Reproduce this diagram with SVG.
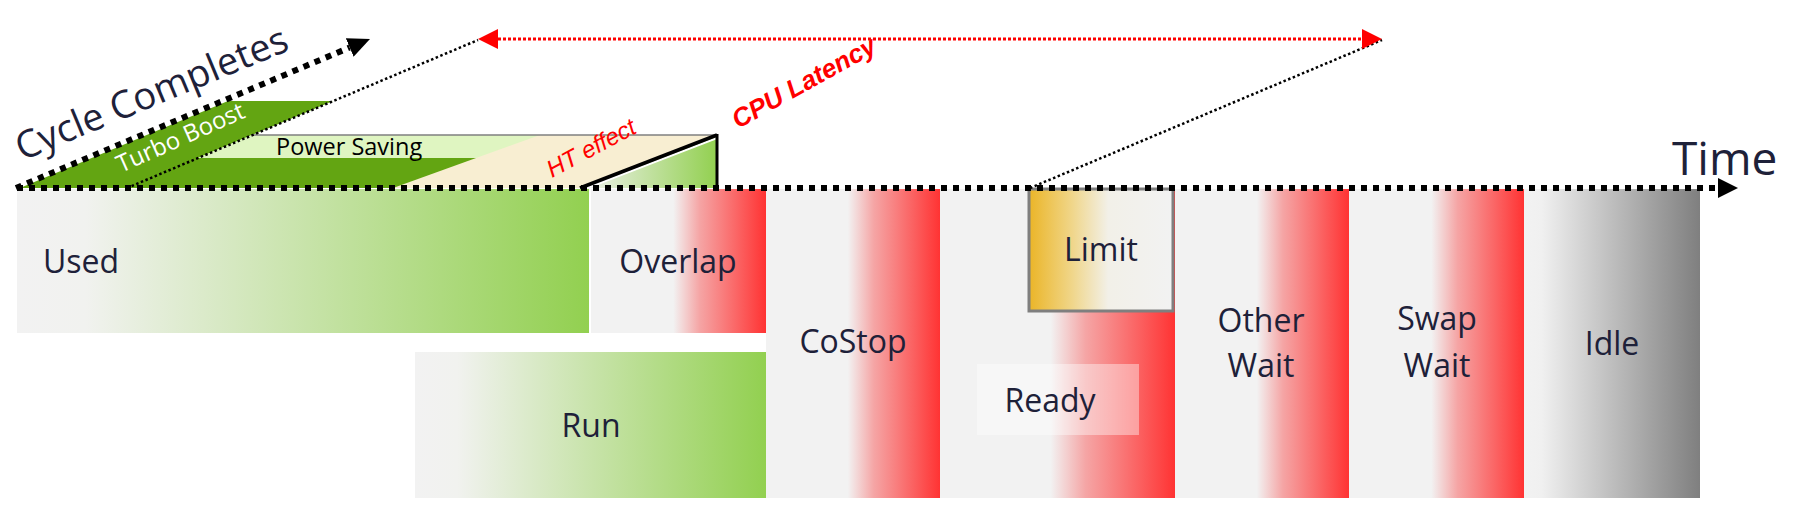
<svg xmlns="http://www.w3.org/2000/svg" width="1819" height="529" viewBox="0 0 1819 529">
<style>
.lbl{font-family:"Open Sans","Liberation Sans",sans-serif;font-size:32px;fill:#1E2139;text-anchor:middle}
.axis{fill:none;stroke:#000;stroke-width:6;stroke-dasharray:6 6}
.thin{fill:none;stroke:#000;stroke-width:2.5;stroke-dasharray:2.5 2.5}
</style>
<defs>
<linearGradient id="gGreen" x1="0" y1="0" x2="1" y2="0">
<stop offset="0" stop-color="#F2F2F2"/><stop offset="0.12" stop-color="#F1F2EF"/><stop offset="1" stop-color="#92D050"/>
</linearGradient>
<linearGradient id="gRed" x1="0" y1="0" x2="1" y2="0">
<stop offset="0" stop-color="#F2F2F2"/><stop offset="0.47" stop-color="#F2F2F2"/><stop offset="0.62" stop-color="#F5A5A5"/><stop offset="1" stop-color="#FF3333"/>
</linearGradient>
<linearGradient id="gIdle" x1="0" y1="0" x2="1" y2="0">
<stop offset="0" stop-color="#F2F2F2"/><stop offset="0.1" stop-color="#F0F0F0"/><stop offset="1" stop-color="#7F7F7F"/>
</linearGradient>
<linearGradient id="gGold" x1="0" y1="0" x2="1" y2="0">
<stop offset="0" stop-color="#EBB527"/><stop offset="0.3" stop-color="#F0D68A"/><stop offset="0.55" stop-color="#F2F0E8"/><stop offset="1" stop-color="#F2F2F2"/>
</linearGradient>
<linearGradient id="gTri" x1="0" y1="0" x2="1" y2="0">
<stop offset="0" stop-color="#F2F2F2"/><stop offset="1" stop-color="#92D050"/>
</linearGradient>
<marker id="mBlack" markerUnits="userSpaceOnUse" markerWidth="22" markerHeight="20" refX="0" refY="10" orient="auto">
<path d="M0,0 L22,10 L0,20 z" fill="#000"/>
</marker>
<marker id="mTime" markerUnits="userSpaceOnUse" markerWidth="20" markerHeight="20" refX="0" refY="10" orient="auto">
<path d="M0,0 L20,10 L0,20 z" fill="#000"/>
</marker>
<marker id="mRed" markerUnits="userSpaceOnUse" markerWidth="20" markerHeight="20" refX="0" refY="10" orient="auto-start-reverse">
<path d="M0,0 L20,10 L0,20 z" fill="#FF0000"/>
</marker>
</defs>
<rect width="1819" height="529" fill="#FFFFFF"/>

<g id="cpu-efficiency">
<polygon points="20,188 228,101 333,101 252,135 198,158 560,158 560,188" fill="#63A512"/>
<polygon points="252,135 560,135 560,158 198,158" fill="#DFF5C1"/>
<polygon points="540,135 717,135 580,188 393,188" fill="#F8EED2"/>
<polygon points="580,188 717,135 717,188" fill="url(#gTri)"/>
<line x1="252" y1="135" x2="717" y2="135" stroke="#7F7F7F" stroke-width="1.5"/>
<line x1="582" y1="190" x2="717" y2="138" stroke="#FFFFFF" stroke-width="2"/>
<line x1="580" y1="188" x2="717" y2="135" stroke="#000" stroke-width="3.5"/>
<line x1="717" y1="134" x2="717" y2="188" stroke="#000" stroke-width="3"/>
<text x="276" y="155" font-family="'Open Sans','Liberation Sans',sans-serif" font-size="23.5" fill="#000">Power Saving</text>
<text transform="translate(121,173) rotate(-24)" font-family="'Open Sans','Liberation Sans',sans-serif" font-size="24" fill="#FFFFFF">Turbo Boost</text>
<text transform="translate(552,178) rotate(-28)" font-family="'Liberation Sans',sans-serif" font-style="italic" font-size="24" fill="#FF0000">HT effect</text>
</g>

<g id="used"><rect x="17" y="189" width="572" height="144" fill="url(#gGreen)"/><text class="lbl" x="43" y="273" style="text-anchor:start">Used</text></g>
<g id="overlap"><rect x="591" y="189" width="175" height="144" fill="url(#gRed)"/><text class="lbl" x="678" y="273">Overlap</text></g>
<g id="run"><rect x="415" y="352" width="351" height="146" fill="url(#gGreen)"/><text class="lbl" x="591" y="437">Run</text></g>
<g id="costop"><rect x="766" y="189" width="174" height="309" fill="url(#gRed)"/><text class="lbl" x="853" y="353">CoStop</text></g>
<g id="ready"><rect x="940" y="189" width="235" height="309" fill="url(#gRed)"/><rect x="977" y="364" width="162" height="71" fill="#FFFFFF" fill-opacity="0.4"/><text class="lbl" x="1050" y="412">Ready</text></g>
<g id="limit"><rect x="1029" y="189" width="144" height="122" fill="url(#gGold)" stroke="#7F7F7F" stroke-width="3"/><text class="lbl" x="1101" y="261">Limit</text></g>
<g id="other-wait"><rect x="1175" y="189" width="174" height="309" fill="url(#gRed)"/><text class="lbl" x="1261" y="332">Other</text><text class="lbl" x="1261" y="377">Wait</text></g>
<g id="swap-wait"><rect x="1349" y="189" width="175" height="309" fill="url(#gRed)"/><text class="lbl" x="1437" y="330">Swap</text><text class="lbl" x="1437" y="377">Wait</text></g>
<g id="idle"><rect x="1524" y="189" width="176" height="309" fill="url(#gIdle)"/><text class="lbl" x="1612" y="355">Idle</text></g>

<g id="connectors">
<line class="axis" x1="17" y1="188" x2="1718" y2="188" marker-end="url(#mTime)"/>
<line class="axis" x1="16" y1="188" x2="349.7" y2="47.5" marker-end="url(#mBlack)"/>
<line class="thin" x1="127" y1="188" x2="478" y2="40"/>
<line class="thin" x1="1030" y1="188" x2="1382" y2="40"/>
<line x1="498" y1="39" x2="1362" y2="39" stroke="#FF0000" stroke-width="3" stroke-dasharray="3 2" marker-start="url(#mRed)" marker-end="url(#mRed)"/>
</g>

<g id="labels">
<text x="1672" y="175" font-family="'Open Sans','Liberation Sans',sans-serif" font-size="46" fill="#1E2139">Time</text>
<text transform="translate(22,161) rotate(-22.5)" font-family="'Open Sans','Liberation Sans',sans-serif" font-size="38" fill="#1E2139">Cycle Completes</text>
<text transform="translate(738,129) rotate(-29)" font-family="'Liberation Sans',sans-serif" font-style="italic" font-weight="bold" font-size="26" fill="#FF0000">CPU Latency</text>
</g>
</svg>
